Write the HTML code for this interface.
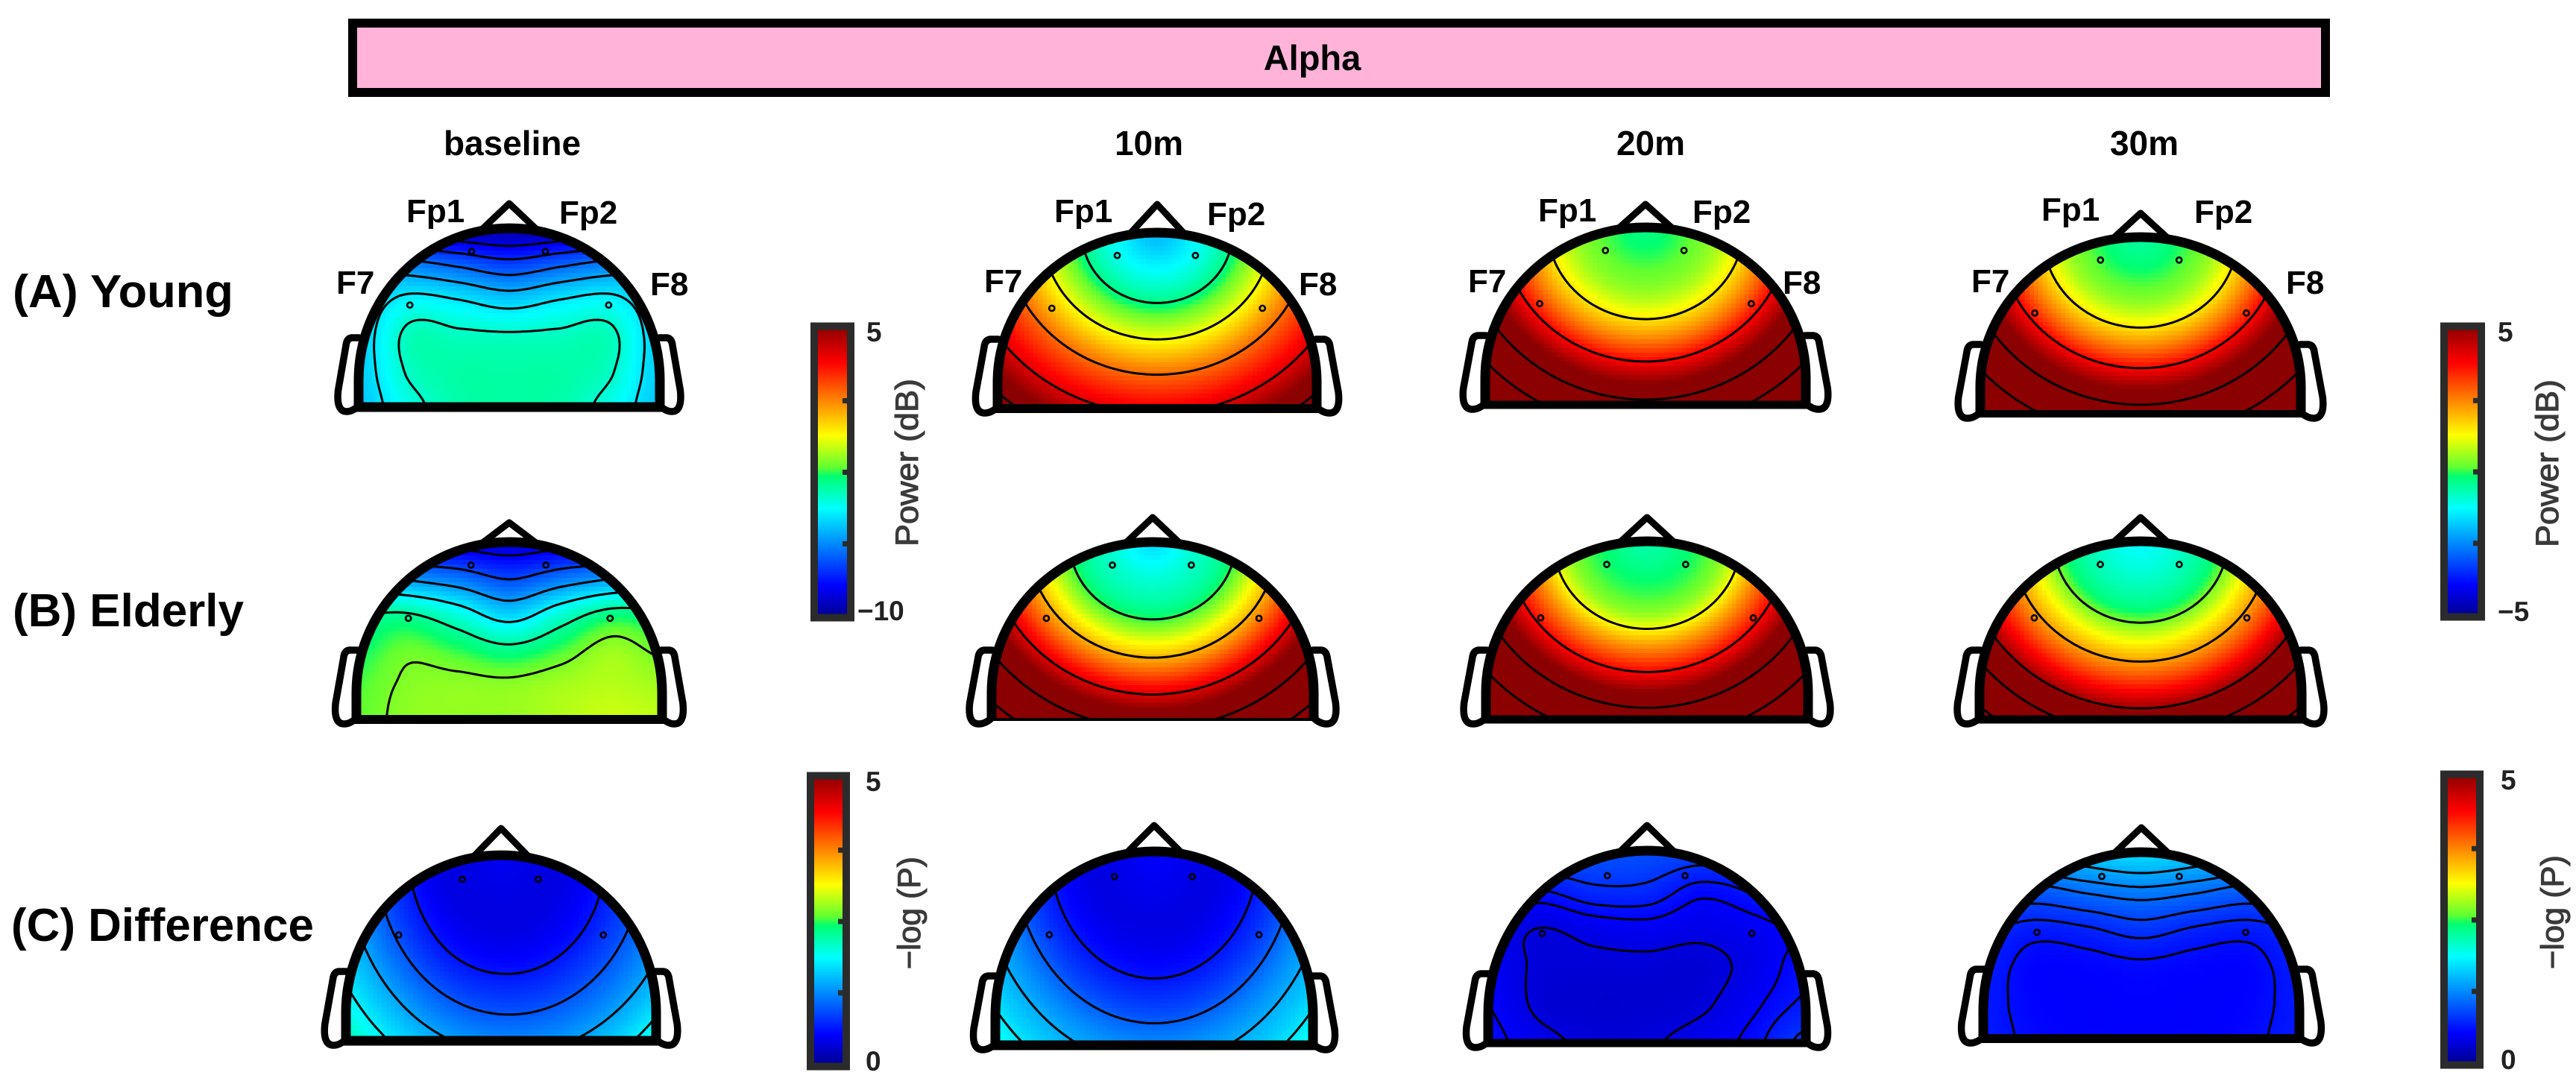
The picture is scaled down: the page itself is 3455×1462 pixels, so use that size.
<!DOCTYPE html>
<html lang="en">
<head>
<meta charset="utf-8">
<title>Alpha power topographic maps</title>
<style>
html,body{margin:0;padding:0;background:#fff;width:3455px;height:1462px;overflow:hidden}
svg{display:block}
text{font-family:"Liberation Sans",sans-serif}
.lab{font-weight:bold;fill:#000}
.row{font-size:62px}
.col{font-size:46px}
.ele{font-size:44px}
.tick{font-size:37px;font-weight:bold;fill:#222}
.cbt{font-size:43px;fill:#3a3a3a;stroke:#3a3a3a;stroke-width:1.1px}
</style>
</head>
<body>
<svg id="figure" width="3455" height="1462" viewBox="0 0 3455 1462" xmlns="http://www.w3.org/2000/svg">
<defs id="defs"></defs>
<rect x="0" y="0" width="3455" height="1462" fill="#fff"/>
<rect x="473" y="31" width="2646" height="93" fill="#ffb3d9" stroke="#000" stroke-width="12"/>
<text class="lab" x="1760" y="94" font-size="47" text-anchor="middle">Alpha</text>
<text class="lab col" x="687" y="208" text-anchor="middle">baseline</text>
<text class="lab col" x="1541" y="208" text-anchor="middle">10m</text>
<text class="lab col" x="2214" y="208" text-anchor="middle">20m</text>
<text class="lab col" x="2876" y="208" text-anchor="middle">30m</text>
<text class="lab row" x="17" y="412" textLength="296" lengthAdjust="spacingAndGlyphs">(A) Young</text>
<text class="lab row" x="17" y="840" textLength="310" lengthAdjust="spacingAndGlyphs">(B) Elderly</text>
<text class="lab row" x="15" y="1262" textLength="406" lengthAdjust="spacingAndGlyphs">(C) Difference</text>
<g id="heads"></g>
<g id="colorbars"></g>
<g>
<text class="lab ele" x="545" y="298">Fp1</text>
<text class="lab ele" x="750" y="300">Fp2</text>
<text class="lab ele" x="451" y="394">F7</text>
<text class="lab ele" x="872" y="396">F8</text>
<text class="lab ele" x="1414" y="298">Fp1</text>
<text class="lab ele" x="1619" y="302">Fp2</text>
<text class="lab ele" x="1320" y="392">F7</text>
<text class="lab ele" x="1742" y="396">F8</text>
<text class="lab ele" x="2063" y="297">Fp1</text>
<text class="lab ele" x="2270" y="299">Fp2</text>
<text class="lab ele" x="1969" y="392">F7</text>
<text class="lab ele" x="2391" y="394">F8</text>
<text class="lab ele" x="2738" y="296">Fp1</text>
<text class="lab ele" x="2943" y="299">Fp2</text>
<text class="lab ele" x="2644" y="392">F7</text>
<text class="lab ele" x="3066" y="394">F8</text>
</g>
</svg>
<script>
// Scalp samples on a rectangular grid: rows run front (top of head) to back, columns left to right.
const scalpRows = [1, 0.8, 0.6, 0.4, 0.2, 0];
const scalpCols = [-1, -0.667, -0.333, 0, 0.333, 0.667, 1];
// Scalp samples on a fan grid centred on the nose: rows are distance from the nose, columns bearing in degrees.
const fanDistances = [0, 0.2, 0.4, 0.6, 0.8, 1, 1.2, 1.4];
const fanBearings = [-90, -60, -30, 0, 30, 60, 90];

const youngBaseline = [
[-8,-9,-9.4,-9.6,-9.4,-9,-8],
[-6,-6.4,-6.9,-7.4,-6.9,-6.4,-6],
[-5.4,-4.5,-4.75,-5.2,-4.75,-4.5,-5.4],
[-5.2,-3.6,-3.65,-3.7,-3.65,-3.6,-5.2],
[-5.2,-3.7,-3.35,-3.35,-3.35,-3.7,-5.2],
[-5.3,-4.1,-3.4,-3.3,-3.4,-4.1,-5.3]];
const young10m = [
[-2,-2,-2,-2,-2,-2,-2],
[-1.3,-1.3,-1.3,-1.3,-1.3,-1.3,-1.3],
[-0.3,-0.3,-0.3,-0.3,-0.3,-0.3,-0.3],
[1.15,1.15,1.15,1.15,1.15,1.15,1.15],
[2.65,2.65,2.65,2.65,2.65,2.65,2.65],
[3.9,3.9,3.9,3.9,3.9,3.9,3.9],
[5.3,5.3,5.3,5.3,5.3,5.3,5.3],
[6.6,6.6,6.6,6.6,6.6,6.6,6.6]];
const young20m = [
[-0.3,-0.3,-0.3,-0.3,-0.3,-0.3,-0.3],
[0.05,0.05,0.05,0.05,0.05,0.05,0.05],
[0.7,0.7,0.7,0.7,0.7,0.7,0.7],
[2.2,2.2,2.2,2.2,2.2,2.2,2.2],
[4.2,4.2,4.2,4.2,4.2,4.2,4.2],
[6.2,6.2,6.2,6.2,6.2,6.2,6.2],
[8.3,8.3,8.3,8.3,8.3,8.3,8.3],
[10.3,10.3,10.3,10.3,10.3,10.3,10.3]];
const young30m = [
[-0.5,-0.5,-0.5,-0.5,-0.5,-0.5,-0.5],
[-0.1,-0.1,-0.1,-0.1,-0.1,-0.1,-0.1],
[0.65,0.65,0.65,0.65,0.65,0.65,0.65],
[2.3,2.3,2.3,2.3,2.3,2.3,2.3],
[4.35,4.35,4.35,4.35,4.35,4.35,4.35],
[6.3,6.3,6.3,6.3,6.3,6.3,6.3],
[8.3,8.3,8.3,8.3,8.3,8.3,8.3],
[10.3,10.3,10.3,10.3,10.3,10.3,10.3]];
const elderlyBaseline = [
[-8,-8.6,-8.8,-9,-8.8,-8.6,-8],
[-5.5,-6.1,-6.6,-7.3,-6.6,-6,-5.4],
[-3.4,-3.3,-4.1,-5.15,-4,-3,-3.2],
[-2.8,-2.2,-2.6,-3.1,-2.5,-1.7,-2.2],
[-2.4,-1.9,-1.8,-1.85,-1.6,-1.4,-1.6],
[-2.3,-1.8,-1.75,-1.7,-1.45,-1.15,-1.3]];
const elderly10m = [
[-1.6,-1.6,-1.6,-1.6,-1.6,-1.6,-1.6],
[-0.95,-0.95,-0.95,-0.95,-0.95,-0.95,-0.95],
[-0.25,-0.25,-0.25,-0.25,-0.25,-0.25,-0.25],
[1.5,1.5,1.5,1.5,1.5,1.5,1.5],
[3.5,3.5,3.5,3.5,3.5,3.5,3.5],
[5.55,5.55,5.55,5.55,5.55,5.55,5.55],
[7.7,7.7,7.7,7.7,7.7,7.7,7.7],
[9.8,9.8,9.8,9.8,9.8,9.8,9.8]];
const elderly20m = [
[-0.6,-0.6,-0.6,-0.6,-0.6,-0.6,-0.6],
[-0.2,-0.2,-0.2,-0.2,-0.2,-0.2,-0.2],
[0.45,0.45,0.45,0.45,0.45,0.45,0.45],
[2.4,2.4,2.4,2.4,2.4,2.4,2.4],
[4.45,4.45,4.45,4.45,4.45,4.45,4.45],
[6.75,6.75,6.75,6.75,6.75,6.75,6.75],
[8.9,8.9,8.9,8.9,8.9,8.9,8.9],
[11,11,11,11,11,11,11]];
const elderly30m = [
[-1.25,-1.25,-1.25,-1.25,-1.25,-1.25,-1.25],
[-0.85,-0.85,-0.85,-0.85,-0.85,-0.85,-0.85],
[-0.1,-0.1,-0.1,-0.1,-0.1,-0.1,-0.1],
[1.55,1.55,1.55,1.55,1.55,1.55,1.55],
[3.35,3.35,3.35,3.35,3.35,3.35,3.35],
[5.5,5.5,5.5,5.5,5.5,5.5,5.5],
[7.9,7.9,7.9,7.9,7.9,7.9,7.9],
[9.8,9.8,9.8,9.8,9.8,9.8,9.8]];
const differenceBaseline = [
[0.5,0.5,0.5,0.5,0.5,0.5,0.5],
[0.43,0.43,0.43,0.43,0.43,0.43,0.43],
[0.43,0.43,0.43,0.42,0.42,0.42,0.42],
[0.66,0.65,0.62,0.6,0.58,0.57,0.57],
[1,0.98,0.94,0.9,0.86,0.83,0.83],
[1.4,1.38,1.33,1.27,1.2,1.15,1.15],
[1.8,1.77,1.72,1.66,1.58,1.5,1.5],
[2.2,2.17,2.1,2.05,1.97,1.9,1.88]];
const difference10m = [
[0.55,0.55,0.55,0.55,0.55,0.55,0.55],
[0.47,0.47,0.47,0.47,0.47,0.47,0.47],
[0.42,0.42,0.42,0.42,0.42,0.42,0.42],
[0.58,0.58,0.58,0.58,0.58,0.58,0.58],
[0.88,0.88,0.88,0.88,0.88,0.88,0.88],
[1.28,1.28,1.28,1.28,1.28,1.28,1.28],
[1.6,1.6,1.6,1.6,1.6,1.6,1.6],
[1.9,1.9,1.9,1.9,1.9,1.9,1.9]];
const difference20m = [
[1,1,0.97,0.95,0.9,0.95,1],
[0.72,0.66,0.77,0.76,0.6,0.68,0.85],
[0.5,0.4,0.47,0.5,0.45,0.5,0.58],
[0.5,0.37,0.36,0.36,0.35,0.45,0.62],
[0.55,0.36,0.32,0.33,0.37,0.52,0.68],
[0.6,0.45,0.37,0.38,0.47,0.6,0.85]];
const difference30m = [
[1.5,1.5,1.6,1.7,1.6,1.5,1.5],
[1.1,1.05,1.15,1.22,1.15,1.05,1.1],
[0.78,0.7,0.75,0.84,0.75,0.7,0.78],
[0.7,0.56,0.57,0.6,0.57,0.56,0.7],
[0.67,0.56,0.54,0.55,0.54,0.56,0.67],
[0.68,0.58,0.54,0.55,0.54,0.58,0.68]];

// Contour levels printed on each map.
const levelsYoungBaseline = [-8.65,-7.7,-6.7,-5.7,-4.75,-3.8];
const levelsYoung10m = [-0.3,1.2,2.7,4.1,5.6];
const levelsYoung20m = [1.5,3.75,5.9,7.6];
const levelsYoung30m = [1.5,3.75,5.8,7.6];
const levelsElderlyBaseline = [-8.5,-7.2,-5.9,-4.6,-3.3,-2];
const levelsElderly10m = [0,2,4.1,6.1,8.1];
const levelsElderly20m = [1.25,3.75,6,8];
const levelsElderly30m = [0.3,2.2,4.8,6.5,8.5];
const levelsDifferenceBaseline = [0.65,1,1.4,1.8];
const levelsDifference10m = [0.65,1.05,1.45,1.75];
const levelsDifference20m = [0.4,0.55,0.65,0.8];
const levelsDifference30m = [0.62,0.75,0.9,1.1,1.25,1.45];

// Electrode sites in head coordinates.
const electrodeNames = ['Fp1','Fp2','F7','F8'];
const electrodeU = [-0.25,0.24,-0.66,0.66];
const electrodeV = [0.87,0.87,0.57,0.57];

// Colorbar scales and tick labels.
const scaleBaseline = [-10,5];
const scalePower = [-5,5];
const scaleLogP = [0,5];
const tickLabelsBaseline = ['5','\u221210'];
const tickLabelsPower = ['5','\u22125'];
const tickLabelsLogP = ['5','0'];

// jet-like colour map: position, red, green, blue
const colormap = [
[0,0,0,139],[0.11,0,0,255],[0.375,0,255,255],[0.485,0,255,112],
[0.515,96,255,48],[0.625,255,255,0],[0.875,255,0,0],[1,139,0,0]];

function mapColor(t){
  t=Math.max(0,Math.min(1,t));
  for(let i=1;i<colormap.length;i++){
    const a=colormap[i-1],b=colormap[i];
    if(t<=b[0]){
      const f=(t-a[0])/(b[0]-a[0]);
      return 'rgb('+Math.round(a[1]+(b[1]-a[1])*f)+','+Math.round(a[2]+(b[2]-a[2])*f)+','+Math.round(a[3]+(b[3]-a[3])*f)+')';
    }
  }
  return 'rgb(139,0,0)';
}
function cubic(p0,p1,p2,p3,t){
  return 0.5*((2*p1)+(-p0+p2)*t+(2*p0-5*p1+4*p2-p3)*t*t+(-p0+3*p1-3*p2+p3)*t*t*t);
}
function gridLookup(grid,rp,cp){
  const nr=grid.length,nc=grid[0].length;
  rp=Math.max(0,Math.min(nr-1.0001,rp));
  cp=Math.max(0,Math.min(nc-1.0001,cp));
  const ci=Math.floor(cp),ri=Math.floor(rp),cf=cp-ci,rf=rp-ri;
  const vals=[];
  for(let j=-1;j<=2;j++){
    const row=grid[Math.max(0,Math.min(nr-1,ri+j))];
    vals.push(cubic(row[Math.max(0,ci-1)],row[ci],row[Math.min(nc-1,ci+1)],row[Math.min(nc-1,ci+2)],cf));
  }
  return cubic(vals[0],vals[1],vals[2],vals[3],rf);
}
function sampleField(h,u,v){
  if(h.fan){
    const du=u/h.fan, dv=Math.max(0,1-v);
    const dist=Math.sqrt(du*du+dv*dv);
    const bearing=Math.atan2(du,dv)*180/Math.PI;
    const rp=dist/(fanDistances[fanDistances.length-1]-fanDistances[0])*(fanDistances.length-1);
    const cp=(bearing-fanBearings[0])/(fanBearings[fanBearings.length-1]-fanBearings[0])*(fanBearings.length-1);
    return gridLookup(h.grid,rp,cp);
  }
  const cp=(u-scalpCols[0])/(scalpCols[scalpCols.length-1]-scalpCols[0])*(scalpCols.length-1);
  const rp=(scalpRows[0]-v)/(scalpRows[0]-scalpRows[scalpRows.length-1])*(scalpRows.length-1);
  return gridLookup(h.grid,rp,cp);
}

// Placement of each map on the page.
const heads = [
{key:'young-baseline',grid:youngBaseline,levels:levelsYoungBaseline,scale:scaleBaseline,fan:0,cx:683,base:546,rx:202,ry:240,tip:273,baseW:13},
{key:'young-10m',grid:young10m,levels:levelsYoung10m,scale:scalePower,fan:1.18,cx:1552,base:548,rx:214,ry:236,tip:274,baseW:12},
{key:'young-20m',grid:young20m,levels:levelsYoung20m,scale:scalePower,fan:1.18,cx:2207,base:543,rx:215,ry:238,tip:274,baseW:11},
{key:'young-30m',grid:young30m,levels:levelsYoung30m,scale:scalePower,fan:1.18,cx:2871,base:555,rx:215,ry:237,tip:286,baseW:10},
{key:'elderly-baseline',grid:elderlyBaseline,levels:levelsElderlyBaseline,scale:scaleBaseline,fan:0,cx:683,base:965,rx:205,ry:238,tip:701,baseW:12},
{key:'elderly-10m',grid:elderly10m,levels:levelsElderly10m,scale:scalePower,fan:1.18,cx:1546,base:965,rx:216,ry:238,tip:694,baseW:4},
{key:'elderly-20m',grid:elderly20m,levels:levelsElderly20m,scale:scalePower,fan:1.18,cx:2209,base:965,rx:216,ry:239,tip:694,baseW:11},
{key:'elderly-30m',grid:elderly30m,levels:levelsElderly30m,scale:scalePower,fan:1.18,cx:2871,base:965,rx:216,ry:239,tip:694,baseW:11},
{key:'difference-baseline',grid:differenceBaseline,levels:levelsDifferenceBaseline,scale:scaleLogP,fan:1,cx:672,base:1396,rx:208,ry:249,tip:1111,baseW:13},
{key:'difference-10m',grid:difference10m,levels:levelsDifference10m,scale:scaleLogP,fan:1,cx:1548,base:1402,rx:213,ry:260,tip:1107,baseW:13},
{key:'difference-20m',grid:difference20m,levels:levelsDifference20m,scale:scaleLogP,fan:0,cx:2209,base:1399,rx:213,ry:258,tip:1107,baseW:11},
{key:'difference-30m',grid:difference30m,levels:levelsDifference30m,scale:scaleLogP,fan:0,cx:2872,base:1393,rx:212,ry:250,tip:1110,baseW:12}
];
const colorbars = [
{key:'baseline-power',scale:scaleBaseline,ticks:tickLabelsBaseline,title:'Power (dB)',x:1087,y:433,w:59,h:400,tx:1162,titleX:1217,titleTop:508,titleLen:225,ty0:819,negX:1150},
{key:'post-power',scale:scalePower,ticks:tickLabelsPower,title:'Power (dB)',x:3273,y:433,w:60,h:399,tx:3350,titleX:3417,titleTop:509,titleLen:225,ty0:820,negX:3350},
{key:'baseline-logp',scale:scaleLogP,ticks:tickLabelsLogP,title:'\u2212log (P)',x:1082,y:1036,w:58,h:399,tx:1161,titleX:1220,titleTop:1149,titleLen:151,ty0:1423,negX:1161},
{key:'post-logp',scale:scaleLogP,ticks:tickLabelsLogP,title:'\u2212log (P)',x:3273,y:1034,w:58,h:399,tx:3354,titleX:3424,titleTop:1147,titleLen:153,ty0:1421,negX:3354}
];

const NS='http://www.w3.org/2000/svg';
const defs=document.getElementById('defs');
const headsLayer=document.getElementById('heads');
const barsLayer=document.getElementById('colorbars');
const CELL=6, STEP=4, SHOULDER=0.15;

function drawHead(h){
  const g=document.createElementNS(NS,'g');
  
  
  const sx=h.rx/213;
  const shoulderY=h.base-SHOULDER*h.ry;
  const arc='M'+(h.cx-h.rx)+','+h.base+' L'+(h.cx-h.rx)+','+shoulderY+' A'+h.rx+','+((1-SHOULDER)*h.ry)+' 0 0 1 '+(h.cx+h.rx)+','+shoulderY+' L'+(h.cx+h.rx)+','+h.base;
  const clip=document.createElementNS(NS,'clipPath');
  clip.setAttribute('id','clip-'+h.key);
  const cp=document.createElementNS(NS,'path');
  cp.setAttribute('d',arc+' Z');
  clip.appendChild(cp);
  defs.appendChild(clip);

  // ears
  [-1,1].forEach(function(side){
    const X=function(a){return (h.cx+side*a*sx).toFixed(1);};
    const Y=function(b){return (h.base+b).toFixed(1);};
    const ear=document.createElementNS(NS,'path');
    ear.setAttribute('d','M'+X(212)+','+Y(-93)+' L'+X(223)+','+Y(-93)+' Q'+X(230)+','+Y(-92)+' '+X(231)+','+Y(-82)+' L'+X(242)+','+Y(-22)+' Q'+X(245)+','+Y(6)+' '+X(230)+','+Y(6)+' Q'+X(222)+','+Y(6)+' '+X(214)+','+Y(-1));
    ear.setAttribute('fill','#fff');
    ear.setAttribute('stroke','#000');
    ear.setAttribute('stroke-width','9.5');
    ear.setAttribute('stroke-linejoin','round');
    ear.setAttribute('stroke-linecap','round');
    
    
    g.appendChild(ear);
  });

  // heatmap cells
  const field=document.createElementNS(NS,'g');
  field.setAttribute('clip-path','url(#clip-'+h.key+')');
  field.setAttribute('shape-rendering','crispEdges');
  
  
  const lo=h.scale[0], hi=h.scale[1];
  for(let py=h.base-h.ry-CELL;py<h.base;py+=CELL){
    for(let px=h.cx-h.rx-CELL;px<h.cx+h.rx+CELL;px+=CELL){
      const u=(px+CELL/2-h.cx)/h.rx, v=(h.base-py-CELL/2)/h.ry;
      const vv=Math.max(0,(v-SHOULDER)/(1-SHOULDER));
      if(u*u+vv*vv>1.08) continue;
      const cell=document.createElementNS(NS,'rect');
      cell.setAttribute('x',px);
      cell.setAttribute('y',py);
      cell.setAttribute('width',CELL);
      cell.setAttribute('height',CELL);
      cell.setAttribute('fill',mapColor((sampleField(h,u,v)-lo)/(hi-lo)));
      
      
      field.appendChild(cell);
    }
  }
  g.appendChild(field);

  // contour lines by marching squares over the interpolated field
  const nx=Math.ceil(2*h.rx/STEP)+1, ny=Math.ceil(h.ry/STEP)+1;
  const vals=[];
  for(let j=0;j<ny;j++){
    const row=[];
    for(let i=0;i<nx;i++){
      row.push(sampleField(h,(i*STEP-h.rx)/h.rx,(j*STEP)/h.ry));
    }
    vals.push(row);
  }
  const contours=document.createElementNS(NS,'g');
  contours.setAttribute('clip-path','url(#clip-'+h.key+')');
  
  
  h.levels.forEach(function(level){
    let d='';
    const PX=function(i){return h.cx-h.rx+i*STEP;};
    const PY=function(j){return h.base-j*STEP;};
    for(let j=0;j<ny-1;j++){
      for(let i=0;i<nx-1;i++){
        const a=vals[j][i],b=vals[j][i+1],c=vals[j+1][i+1],e=vals[j+1][i];
        const pts=[];
        if((a<level)!==(b<level)) pts.push([PX(i+(level-a)/(b-a)),PY(j)]);
        if((b<level)!==(c<level)) pts.push([PX(i+1),PY(j+(level-b)/(c-b))]);
        if((c<level)!==(e<level)) pts.push([PX(i+1-(level-c)/(e-c)),PY(j+1)]);
        if((e<level)!==(a<level)) pts.push([PX(i),PY(j+1-(level-e)/(a-e))]);
        if(pts.length>=2){
          d+='M'+pts[0][0].toFixed(1)+' '+pts[0][1].toFixed(1)+'L'+pts[1][0].toFixed(1)+' '+pts[1][1].toFixed(1);
        }
        if(pts.length===4){
          d+='M'+pts[2][0].toFixed(1)+' '+pts[2][1].toFixed(1)+'L'+pts[3][0].toFixed(1)+' '+pts[3][1].toFixed(1);
        }
      }
    }
    const line=document.createElementNS(NS,'path');
    line.setAttribute('d',d);
    line.setAttribute('fill','none');
    line.setAttribute('stroke','#000');
    line.setAttribute('stroke-width','3');
    line.setAttribute('stroke-linecap','round');
    
    
    contours.appendChild(line);
  });
  g.appendChild(contours);

  // electrodes
  electrodeNames.forEach(function(name,i){
    const dot=document.createElementNS(NS,'circle');
    dot.setAttribute('cx',h.cx+electrodeU[i]*h.rx);
    dot.setAttribute('cy',h.base-electrodeV[i]*h.ry);
    dot.setAttribute('r','3.6');
    dot.setAttribute('fill','none');
    dot.setAttribute('stroke','#000');
    dot.setAttribute('stroke-width','2.6');
    
    
    g.appendChild(dot);
  });

  // nose
  const noseBase=h.base-h.ry+2;
  const nose=document.createElementNS(NS,'path');
  nose.setAttribute('d','M'+(h.cx-37)+','+noseBase+' L'+h.cx+','+h.tip+' L'+(h.cx+37)+','+noseBase+' Z');
  nose.setAttribute('fill','#fff');
  nose.setAttribute('stroke','#000');
  nose.setAttribute('stroke-width','9');
  nose.setAttribute('stroke-linejoin','round');
  
  
  g.appendChild(nose);

  // head outline
  const outline=document.createElementNS(NS,'path');
  outline.setAttribute('d',arc);
  outline.setAttribute('fill','none');
  outline.setAttribute('stroke','#000');
  outline.setAttribute('stroke-width','13');
  
  
  g.appendChild(outline);
  const baseLine=document.createElementNS(NS,'line');
  baseLine.setAttribute('x1',h.cx-h.rx-4);
  baseLine.setAttribute('x2',h.cx+h.rx+4);
  baseLine.setAttribute('y1',h.base);
  baseLine.setAttribute('y2',h.base);
  baseLine.setAttribute('stroke','#000');
  baseLine.setAttribute('stroke-width',h.baseW);
  
  
  g.appendChild(baseLine);
  headsLayer.appendChild(g);
}

function drawBar(b){
  const g=document.createElementNS(NS,'g');
  
  
  const grad=document.createElementNS(NS,'linearGradient');
  grad.setAttribute('id','grad-'+b.key);
  grad.setAttribute('x1','0');
  grad.setAttribute('y1','1');
  grad.setAttribute('x2','0');
  grad.setAttribute('y2','0');
  colormap.forEach(function(s){
    const st=document.createElementNS(NS,'stop');
    st.setAttribute('offset',s[0]);
    st.setAttribute('stop-color','rgb('+s[1]+','+s[2]+','+s[3]+')');
    grad.appendChild(st);
  });
  defs.appendChild(grad);
  const r=document.createElementNS(NS,'rect');
  r.setAttribute('x',b.x+5);
  r.setAttribute('y',b.y+4.5);
  r.setAttribute('width',b.w-10);
  r.setAttribute('height',b.h-9);
  r.setAttribute('fill','url(#grad-'+b.key+')');
  r.setAttribute('stroke','#2b2b2b');
  r.setAttribute('stroke-width','10');
  
  
  g.appendChild(r);
  [0.25,0.5,0.75].forEach(function(f){
    const t=document.createElementNS(NS,'rect');
    t.setAttribute('x',b.x+b.w-16);
    t.setAttribute('y',b.y+8+(b.h-16)*f-3);
    t.setAttribute('width',7);
    t.setAttribute('height',7);
    t.setAttribute('fill','#2b2b2b');
    
    
    g.appendChild(t);
  });
  const top=document.createElementNS(NS,'text');
  top.setAttribute('class','tick');
  top.setAttribute('x',b.tx);
  top.setAttribute('y',b.y+25);
  top.textContent=b.ticks[0];
  
  
  g.appendChild(top);
  const bottom=document.createElementNS(NS,'text');
  bottom.setAttribute('class','tick');
  bottom.setAttribute('x',b.negX);
  bottom.setAttribute('y',b.ty0+13);
  bottom.textContent=b.ticks[1];
  
  
  g.appendChild(bottom);
  const title=document.createElementNS(NS,'text');
  title.setAttribute('class','cbt');
  title.setAttribute('text-anchor','start');
  title.setAttribute('textLength',b.titleLen);
  title.setAttribute('lengthAdjust','spacingAndGlyphs');
  title.setAttribute('transform','translate('+(b.titleX+14)+','+(b.titleTop+b.titleLen)+') rotate(-90)');
  title.textContent=b.title;
  
  
  g.appendChild(title);
  barsLayer.appendChild(g);
}

heads.forEach(drawHead);
colorbars.forEach(drawBar);
</script>
</body>
</html>
